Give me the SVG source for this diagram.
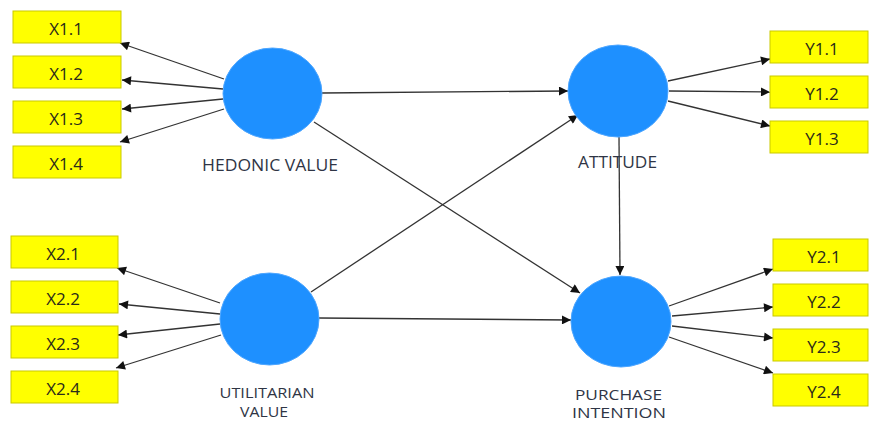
<svg xmlns="http://www.w3.org/2000/svg" width="869" height="422" viewBox="0 0 869 422">
<style>
.bg{fill:#ffffff}
.ind rect{fill:#ffff00;stroke:#c9c900;stroke-width:1}
.ind text{font-family:"Open Sans","Liberation Sans",sans-serif;font-size:17px;fill:#2a2a1a;text-anchor:middle}
.lat ellipse{fill:#1e90ff;stroke:#4da6ff;stroke-width:1}
.lat text{font-family:"Open Sans","Liberation Sans",sans-serif;font-size:15.5px;fill:#2f3545;text-anchor:middle}
.lat text.two{font-size:14.5px}
#connectors line{stroke:#333333;stroke-width:1.3;marker-end:url(#ah)}
</style>
<defs>
<marker id="ah" viewBox="0 0 10 10" refX="10" refY="5" markerUnits="userSpaceOnUse" markerWidth="11" markerHeight="9" orient="auto">
<path d="M0,0 L10,5 L0,10 z" fill="#111111"/>
</marker>
</defs>
<rect class="bg" x="0" y="0" width="869" height="422"/>

<g id="connectors">
<line x1="224" y1="79" x2="120" y2="43"/>
<line x1="223" y1="89" x2="122" y2="80"/>
<line x1="223" y1="99" x2="122" y2="109"/>
<line x1="224" y1="109" x2="120" y2="142"/>
<line x1="220" y1="303" x2="117" y2="268"/>
<line x1="220" y1="314" x2="119" y2="304"/>
<line x1="220" y1="324" x2="118" y2="335"/>
<line x1="221" y1="335" x2="116" y2="368"/>
<line x1="668" y1="81" x2="770" y2="59"/>
<line x1="669" y1="91" x2="770" y2="92"/>
<line x1="668" y1="101" x2="770" y2="126"/>
<line x1="669" y1="306" x2="773" y2="269"/>
<line x1="672" y1="316" x2="773" y2="307"/>
<line x1="672" y1="326" x2="773" y2="338"/>
<line x1="669" y1="337" x2="773" y2="373"/>
<line x1="322" y1="93" x2="568" y2="91"/>
<line x1="314" y1="122" x2="580" y2="293"/>
<line x1="311" y1="292" x2="578" y2="115"/>
<line x1="319" y1="318" x2="571" y2="320"/>
<line x1="619" y1="137" x2="620" y2="275"/>
</g>

<g id="X1.1" class="ind"><rect x="13" y="11" width="108" height="32"/><text x="66" y="35">X1.1</text></g>
<g id="X1.2" class="ind"><rect x="13" y="56" width="108" height="32"/><text x="66" y="80">X1.2</text></g>
<g id="X1.3" class="ind"><rect x="13" y="101" width="108" height="32"/><text x="66" y="125">X1.3</text></g>
<g id="X1.4" class="ind"><rect x="13" y="146" width="108" height="32"/><text x="66" y="170">X1.4</text></g>

<g id="X2.1" class="ind"><rect x="11" y="236" width="107" height="32"/><text x="63" y="260">X2.1</text></g>
<g id="X2.2" class="ind"><rect x="11" y="281" width="107" height="32"/><text x="63" y="305">X2.2</text></g>
<g id="X2.3" class="ind"><rect x="11" y="326" width="107" height="32"/><text x="63" y="350">X2.3</text></g>
<g id="X2.4" class="ind"><rect x="11" y="371" width="107" height="32"/><text x="63" y="395">X2.4</text></g>

<g id="Y1.1" class="ind"><rect x="770" y="31" width="98" height="32"/><text x="822" y="55">Y1.1</text></g>
<g id="Y1.2" class="ind"><rect x="770" y="76" width="98" height="32"/><text x="822" y="100">Y1.2</text></g>
<g id="Y1.3" class="ind"><rect x="770" y="121" width="98" height="32"/><text x="822" y="145">Y1.3</text></g>

<g id="Y2.1" class="ind"><rect x="773" y="239" width="95" height="32"/><text x="824" y="263">Y2.1</text></g>
<g id="Y2.2" class="ind"><rect x="773" y="284" width="95" height="32"/><text x="824" y="308">Y2.2</text></g>
<g id="Y2.3" class="ind"><rect x="773" y="329" width="95" height="32"/><text x="824" y="353">Y2.3</text></g>
<g id="Y2.4" class="ind"><rect x="773" y="374" width="95" height="32"/><text x="824" y="398">Y2.4</text></g>

<g id="hedonic" class="lat"><ellipse cx="272.5" cy="93.5" rx="49.5" ry="45.5"/><text x="270" y="171" textLength="136" lengthAdjust="spacingAndGlyphs">HEDONIC VALUE</text></g>
<g id="utilitarian" class="lat"><ellipse cx="269.5" cy="319" rx="49.5" ry="46"/><text class="two" x="267" y="398" textLength="95" lengthAdjust="spacingAndGlyphs">UTILITARIAN</text><text class="two" x="264" y="417" textLength="48" lengthAdjust="spacingAndGlyphs">VALUE</text></g>
<g id="attitude" class="lat"><ellipse cx="618" cy="91" rx="50" ry="46"/><text x="617.5" y="168" textLength="79" lengthAdjust="spacingAndGlyphs">ATTITUDE</text></g>
<g id="purchase" class="lat"><ellipse cx="621" cy="321.5" rx="50" ry="45.5"/><text class="two" x="618.5" y="400" textLength="87" lengthAdjust="spacingAndGlyphs">PURCHASE</text><text class="two" x="619" y="418" textLength="94" lengthAdjust="spacingAndGlyphs">INTENTION</text></g>
</svg>
